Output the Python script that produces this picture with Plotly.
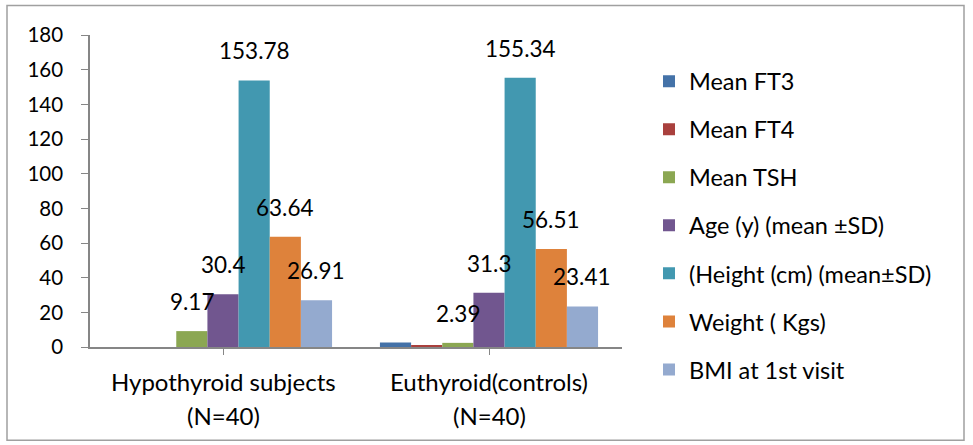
import plotly.graph_objects as go

categories = ["Hypothyroid subjects<br>(N=40)", "Euthyroid(controls)<br>(N=40)"]
series_names = ["Mean FT3", "Mean FT4", "Mean TSH", "Age (y) (mean ±SD)",
                "(Height (cm) (mean±SD)", "Weight ( Kgs)", "BMI at 1st visit"]
mean_ft3 = [0, 2.6]
mean_ft4 = [0, 0.9]
mean_tsh = [9.17, 2.39]
age = [30.4, 31.3]
height = [153.78, 155.34]
weight = [63.64, 56.51]
bmi = [26.91, 23.41]
show_labels = [False, False, True, True, True, True, True]
colors = ["#4472A8", "#A9403D", "#8BA752", "#71568F", "#4298B0", "#DE823B", "#94AACF"]
y_ticks = [0, 20, 40, 60, 80, 100, 120, 140, 160, 180]

values = [mean_ft3, mean_ft4, mean_tsh, age, height, weight, bmi]
FONT = "Lato"

W, H = 973, 445
L, R, T, B = 90, 622, 34.6, 346.7  # plot area pixels
bargap = 0.18

fig = go.Figure()
for i, (name, vals, col) in enumerate(zip(series_names, values, colors)):
    fig.add_trace(go.Bar(x=list(range(len(categories))), y=vals, name=name,
                         marker=dict(color=col, line=dict(width=0)),
                         legendgroup=f"g{i}", hoverinfo="skip"))

n = len(values)
bw = (1 - bargap) / n
annotations = []
for i, vals in enumerate(values):
    if not show_labels[i]:
        continue
    for c, v in enumerate(vals):
        annotations.append(dict(x=c + (i - (n - 1) / 2) * bw, y=v, xref="x", yref="y",
                                text=f"{v:g}", showarrow=False, yanchor="bottom",
                                yshift=14, font=dict(family=FONT, size=22.5, color="black")))


def px_x(p):
    return (p - L) / (R - L)


def px_y(p):
    return (B - p) / (B - T)


# category labels (two lines with Excel-like line spacing)
for c, cat in enumerate(categories):
    for k, line in enumerate(cat.split("<br>")):
        annotations.append(dict(x=c, xref="x", y=px_y(381 + 34 * k), yref="paper",
                                text=line, showarrow=False, yanchor="middle",
                                font=dict(family=FONT, size=24, color="black")))

fig.add_shape(type="rect", xref="paper", yref="paper",
              x0=px_x(7), x1=px_x(964), y0=px_y(440), y1=px_y(5),
              line=dict(color="#A0A0A0", width=1.5), fillcolor="rgba(0,0,0,0)")

fig.update_layout(
    width=W, height=H,
    margin=dict(l=L, r=W - R, t=T, b=H - B, autoexpand=False),
    paper_bgcolor="white", plot_bgcolor="white",
    barmode="group", bargap=bargap, bargroupgap=0,
    font=dict(family=FONT, size=21, color="black"),
    showlegend=True,
    hovermode=False,
    legend=dict(x=px_x(649), y=px_y(59), xanchor="left", yanchor="top",
                font=dict(family=FONT, size=23.5, color="black"),
                tracegroupgap=14.5, itemwidth=30, bgcolor="rgba(0,0,0,0)",
                maxheight=420),
    annotations=annotations,
    xaxis=dict(tickmode="array", tickvals=list(range(len(categories))),
               showticklabels=False,
               range=[-0.5, len(categories) - 0.5],
               showline=True, linecolor="#868686", linewidth=1.5,
               ticks="outside", tickson="boundaries", ticklen=6, tickcolor="#868686",
               showgrid=False, zeroline=False),
    yaxis=dict(range=[0, 180], tickvals=y_ticks, showline=True, linecolor="#868686",
               linewidth=1.5, ticks="outside", ticklen=7, tickcolor="#868686",
               showgrid=False, zeroline=False, ticklabelstandoff=14,
               tickfont=dict(family=FONT, size=20.5, color="black")),
)

fig.write_html("out.html", config={"displayModeBar": False},
               post_script="document.body.style.margin='0';document.body.style.overflow='hidden';")
